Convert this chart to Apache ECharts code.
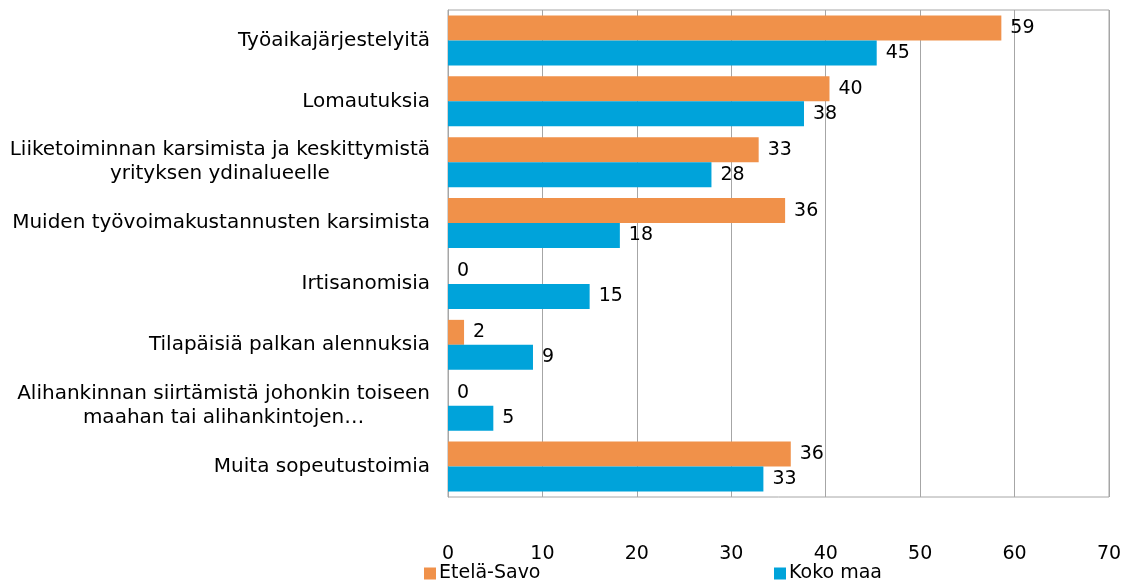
<!DOCTYPE html>
<html>
<head>
<meta charset="utf-8">
<script src="https://cdn.jsdelivr.net/npm/echarts@6/dist/echarts.min.js"></script>
<style>
  html, body { margin: 0; padding: 0; background: #fff; }
  #chart { width: 1138px; height: 584px; }
</style>
</head>
<body>
<div id="chart"></div>
<script>
// categories, top to bottom
var categories = [
  'Työaikajärjestelyitä',
  'Lomautuksia',
  'Liiketoiminnan karsimista ja keskittymistä\nyrityksen ydinalueelle',
  'Muiden työvoimakustannusten karsimista',
  'Irtisanomisia',
  'Tilapäisiä palkan alennuksia',
  'Alihankinnan siirtämistä johonkin toiseen\nmaahan tai alihankintojen…',
  'Muita sopeutustoimia'
];
var seriesNames = ['Etelä-Savo', 'Koko maa'];
var eteläSavo = [58.6, 40.4, 32.9, 35.7, 0, 1.7, 0, 36.3];
var kokoMaa = [45.4, 37.7, 27.9, 18.2, 15.0, 9.0, 4.8, 33.4];
var xTicks = [0, 10, 20, 30, 40, 50, 60, 70];

var orange = '#F0914A';
var blue = '#00A3DA';
var font = 'DejaVu Sans';

var chart = echarts.init(document.getElementById('chart'));

function barSeries(name, data, color) {
  return {
    name: name,
    type: 'bar',
    data: data,
    barGap: '0%',
    barCategoryGap: '18%',
    itemStyle: { color: color },
    label: {
      show: true,
      position: 'right',
      distance: 9,
      color: '#000',
      fontFamily: font,
      fontSize: 19,
      formatter: function (p) { return Math.round(p.value); }
    }
  };
}

var legendText = { color: '#000', fontFamily: font, fontSize: 19, padding: [0, 0, 0, -2] };

var option = {
  animation: false,
  backgroundColor: '#fff',
  grid: {
    left: 448, right: 29, top: 10, bottom: 87,
    show: true, borderColor: '#a6a6a6', borderWidth: 1
  },
  legend: [
    {
      data: [seriesNames[0]], left: 424, top: 564, padding: 0,
      icon: 'rect', itemWidth: 12, itemHeight: 12, itemGap: 4,
      textStyle: legendText
    },
    {
      data: [seriesNames[1]], left: 774, top: 564, padding: 0,
      icon: 'rect', itemWidth: 12, itemHeight: 12, itemGap: 4,
      textStyle: legendText
    }
  ],
  xAxis: {
    type: 'value',
    min: xTicks[0],
    max: xTicks[xTicks.length - 1],
    interval: 10,
    axisLine: { show: false },
    axisTick: { show: false },
    splitLine: { lineStyle: { color: '#a6a6a6', width: 1 } },
    axisLabel: { color: '#000', fontFamily: font, fontSize: 19, margin: 48 }
  },
  yAxis: {
    type: 'category',
    inverse: true,
    data: categories,
    axisLine: { show: true, lineStyle: { color: '#a6a6a6' } },
    axisTick: { show: false },
    axisLabel: {
      color: '#000',
      fontFamily: font,
      fontSize: 20,
      margin: 18,
      lineHeight: 24,
      formatter: function (v) { return '{c|' + v.split('\n').join('}\n{c|') + '}'; },
      rich: { c: { align: 'center', color: '#000', fontFamily: font, fontSize: 20, lineHeight: 24 } }
    }
  },
  series: [
    barSeries(seriesNames[0], eteläSavo, orange),
    barSeries(seriesNames[1], kokoMaa, blue)
  ]
};

chart.setOption(option);
</script>
</body>
</html>
